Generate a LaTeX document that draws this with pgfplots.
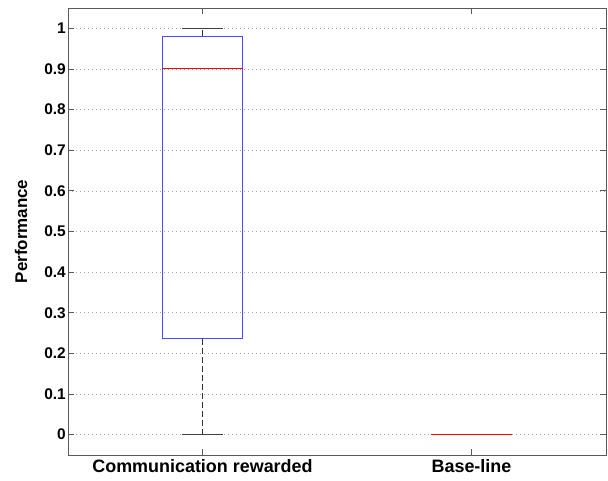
\documentclass[border=0pt]{standalone}
\usepackage{fontspec}
\setmainfont[UprightFont={* Bold}]{Liberation Sans}
\usepackage{pgfplots}
\pgfplotsset{compat=1.18}
\usetikzlibrary{calc}
\definecolor{boxblue}{rgb}{0.3,0.3,1}
\definecolor{medred}{rgb}{1,0,0}
\begin{document}
\begin{tikzpicture}
\begin{axis}[
  scale only axis,
  width=538bp, height=447bp,
  xmin=0.5, xmax=2.5,
  ymin=-0.05, ymax=1.05,
  xtick={1,2},
  xticklabels={Communication rewarded, Base-line},
  ytick={0,0.1,0.2,0.3,0.4,0.5,0.6,0.7,0.8,0.9,1},
  yticklabels={0,0.1,0.2,0.3,0.4,0.5,0.6,0.7,0.8,0.9,1},
  tick align=inside,
  tick pos=both,
  major tick length=6bp,
  ymajorgrids,
  major grid style={gray!70, line width=0.6bp, dash pattern=on 1bp off 3bp},
  axis line style={black!65, line width=0.8bp},
  every tick/.style={black!65, line width=0.8bp},
  /pgf/number format/assume math mode=true,
  yticklabel style={font=\fontsize{15.5}{18}\selectfont, inner sep=2bp},
  xticklabel style={font=\fontsize{18}{21}\selectfont, inner sep=4bp},
  ylabel={Performance},
  ylabel style={font=\fontsize{17}{20}\selectfont, at={(axis description cs:-0.0874,0.5)}, anchor=center},
]
\coordinate (bl) at (rel axis cs:0,0);
\coordinate (tr) at (rel axis cs:1,1);
% Communication rewarded: whiskers (dashed)
\addplot[black!80, line width=0.8bp, dash pattern=on 6bp off 3bp] coordinates {(1,0.0) (1,0.236)};
\addplot[black!80, line width=0.8bp, dash pattern=on 6bp off 3bp] coordinates {(1,0.98) (1,1.0)};
% whisker caps
\addplot[black!75, line width=0.8bp] coordinates {(0.925,1.0) (1.075,1.0)};
\addplot[black!75, line width=0.8bp] coordinates {(0.925,0.0) (1.075,0.0)};
% box (lower quartile 0.236, upper quartile 0.98)
\addplot[boxblue, line width=0.8bp] coordinates {(0.85,0.236) (1.15,0.236) (1.15,0.98) (0.85,0.98) (0.85,0.236)};
% median
\addplot[draw=medred, line width=0.9bp] coordinates {(0.85,0.9) (1.15,0.9)};
% Base-line: all values 0 (median line)
\addplot[draw=medred, line width=0.9bp] coordinates {(1.85,0) (2.15,0)};
\end{axis}
\pgfresetboundingbox
\path[use as bounding box] ($(bl)+(-68bp,-26bp)$) rectangle ($(tr)+(2bp,8bp)$);
\end{tikzpicture}
\end{document}
